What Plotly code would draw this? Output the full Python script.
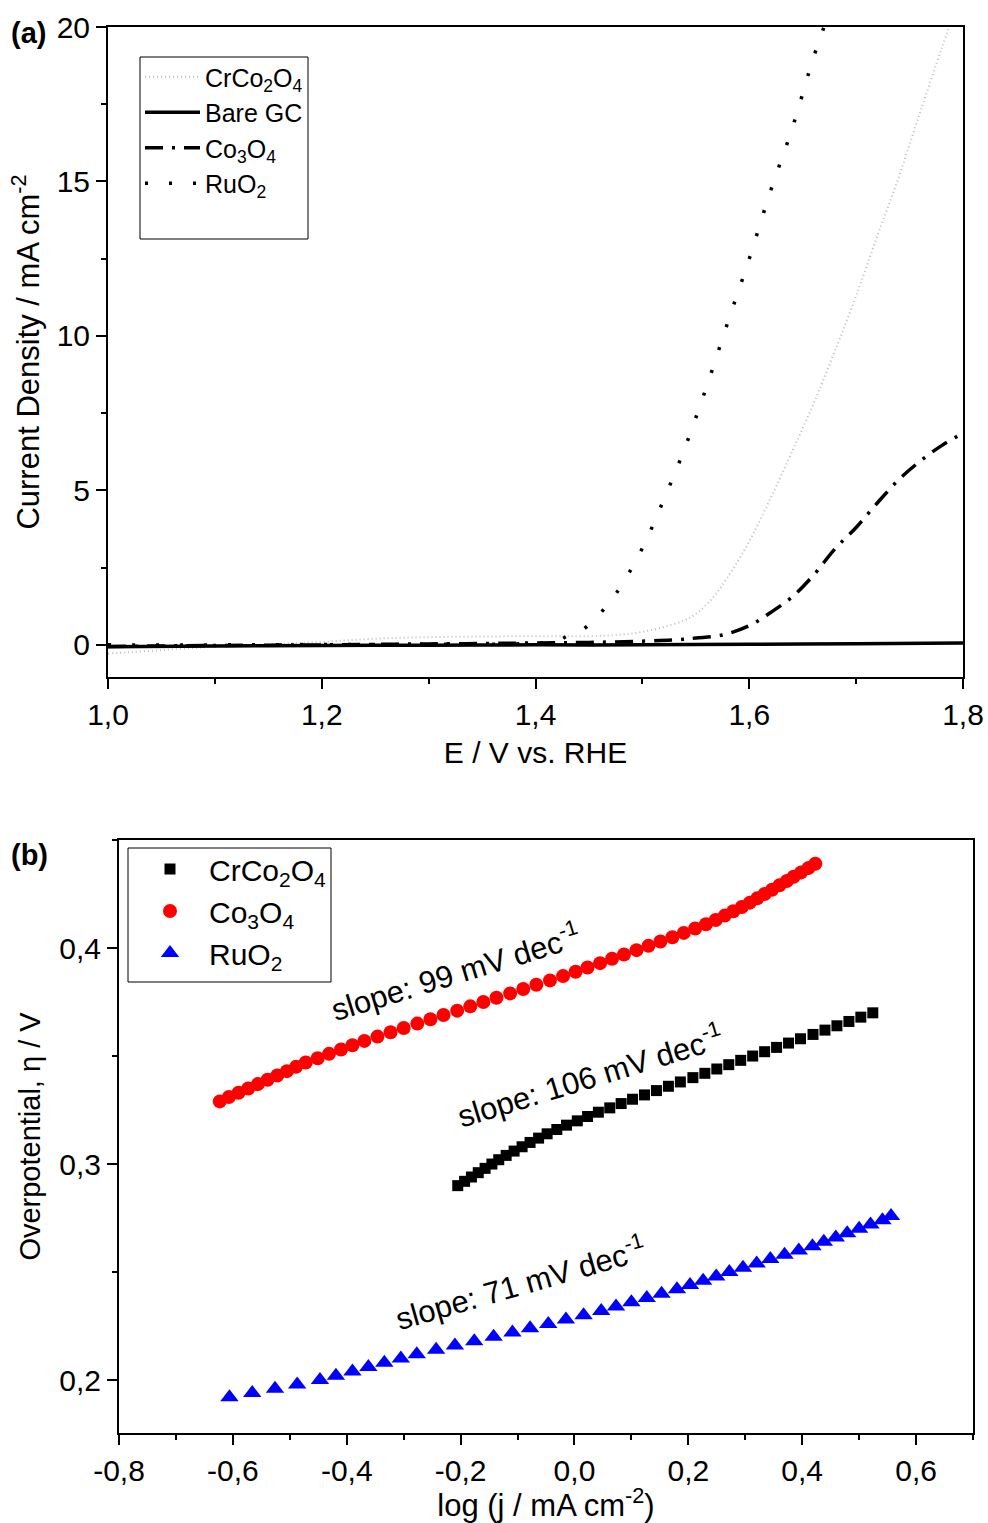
import plotly.graph_objects as go

W, H = 988, 1523
FONT = "Liberation Sans, Arial, sans-serif"

# ---------------- (a) linear sweep voltammograms ----------------
e_crco = [1.00, 1.02, 1.05, 1.08, 1.10, 1.15, 1.20, 1.25, 1.30, 1.35, 1.40, 1.45, 1.48,
          1.50, 1.52, 1.54, 1.55, 1.56, 1.57, 1.58, 1.59, 1.60, 1.62, 1.64, 1.66, 1.68,
          1.70, 1.72, 1.74, 1.76, 1.78, 1.79]
j_crco = [-0.28, -0.24, -0.17, -0.10, -0.06, 0.02, 0.10, 0.20, 0.25, 0.27, 0.28, 0.28, 0.33,
          0.42, 0.58, 0.80, 1.00, 1.30, 1.70, 2.20, 2.75, 3.35, 4.75, 6.25, 7.80, 9.50,
          11.30, 13.25, 15.15, 17.25, 19.30, 20.30]

e_bare = [1.00, 1.10, 1.20, 1.30, 1.40, 1.50, 1.60, 1.70, 1.80]
j_bare = [-0.06, -0.04, -0.02, -0.01, 0.00, 0.00, 0.02, 0.04, 0.06]

e_co3o4 = [1.00, 1.10, 1.20, 1.30, 1.40, 1.45, 1.50, 1.53, 1.55, 1.575, 1.60, 1.62, 1.64,
           1.66, 1.68, 1.70, 1.72, 1.74, 1.76, 1.78, 1.80]
j_co3o4 = [-0.05, -0.02, 0.00, 0.03, 0.06, 0.08, 0.12, 0.16, 0.22, 0.32, 0.62, 1.05, 1.55,
           2.25, 3.10, 3.80, 4.60, 5.35, 5.95, 6.45, 6.85]

e_ruo2 = [1.00, 1.10, 1.20, 1.30, 1.40, 1.42, 1.43, 1.44, 1.45, 1.46, 1.47, 1.48, 1.50,
          1.52, 1.54, 1.56, 1.58, 1.60, 1.62, 1.64, 1.66, 1.672]
j_ruo2 = [0.00, 0.00, 0.01, 0.02, 0.05, 0.12, 0.29, 0.38, 0.66, 1.00, 1.42, 1.90, 3.13,
          4.70, 6.40, 8.35, 10.45, 12.50, 14.70, 16.70, 19.00, 20.20]

# ---------------- (b) Tafel plots ----------------
logj_crco = [-0.205, -0.193, -0.181, -0.169, -0.157, -0.145, -0.133, -0.120, -0.106, -0.092,
             -0.078, -0.063, -0.048, -0.031, -0.014, 0.005, 0.023, 0.042, 0.062, 0.082,
             0.102, 0.123, 0.144, 0.165, 0.186, 0.208, 0.229, 0.250, 0.271, 0.292,
             0.313, 0.334, 0.355, 0.376, 0.397, 0.419, 0.440, 0.461, 0.482, 0.503, 0.524]
eta_crco = [0.290, 0.292, 0.294, 0.296, 0.298, 0.300, 0.302, 0.304, 0.306, 0.308,
            0.310, 0.312, 0.314, 0.316, 0.318, 0.320, 0.322, 0.324, 0.326, 0.328,
            0.330, 0.332, 0.334, 0.336, 0.338, 0.340, 0.342, 0.344, 0.346, 0.348,
            0.350, 0.352, 0.354, 0.356, 0.358, 0.360, 0.362, 0.364, 0.366, 0.368, 0.370]

logj_co3o4 = [-0.623, -0.607, -0.590, -0.573, -0.556, -0.539, -0.522, -0.505, -0.489, -0.472,
              -0.451, -0.431, -0.410, -0.390, -0.369, -0.346, -0.323, -0.300, -0.276, -0.253,
              -0.230, -0.206, -0.183, -0.160, -0.137, -0.113, -0.090, -0.067, -0.043, -0.020,
              0.002, 0.023, 0.045, 0.066, 0.087, 0.109, 0.130, 0.151, 0.172, 0.192,
              0.212, 0.231, 0.248, 0.264, 0.279, 0.294, 0.308, 0.321, 0.334, 0.347,
              0.360, 0.373, 0.385, 0.398, 0.411, 0.423]
eta_co3o4 = [0.329, 0.331, 0.333, 0.335, 0.337, 0.339, 0.341, 0.343, 0.345, 0.347,
             0.349, 0.351, 0.353, 0.355, 0.357, 0.359, 0.361, 0.363, 0.365, 0.367,
             0.369, 0.371, 0.373, 0.375, 0.377, 0.379, 0.381, 0.383, 0.385, 0.387,
             0.389, 0.391, 0.393, 0.395, 0.397, 0.399, 0.401, 0.403, 0.405, 0.407,
             0.409, 0.411, 0.413, 0.415, 0.417, 0.419, 0.421, 0.423, 0.425, 0.427,
             0.429, 0.431, 0.433, 0.435, 0.437, 0.439]

logj_ruo2 = [-0.606, -0.566, -0.526, -0.487, -0.447, -0.419, -0.390, -0.362, -0.334, -0.305,
             -0.277, -0.243, -0.210, -0.176, -0.142, -0.109, -0.078, -0.046, -0.015, 0.016,
             0.047, 0.073, 0.100, 0.127, 0.153, 0.180, 0.203, 0.226, 0.249, 0.272,
             0.296, 0.320, 0.344, 0.369, 0.394, 0.418, 0.438, 0.459, 0.479, 0.500,
             0.520, 0.541, 0.556]
eta_ruo2 = [0.192, 0.194, 0.196, 0.198, 0.200, 0.202, 0.204, 0.206, 0.208, 0.210,
            0.212, 0.214, 0.216, 0.218, 0.220, 0.222, 0.224, 0.226, 0.228, 0.230,
            0.232, 0.234, 0.236, 0.238, 0.240, 0.242, 0.244, 0.246, 0.248, 0.250,
            0.252, 0.254, 0.256, 0.258, 0.260, 0.262, 0.264, 0.266, 0.268, 0.270,
            0.272, 0.274, 0.276]

slope_labels = ["slope: 99 mV dec<sup>-1</sup>", "slope: 106 mV dec<sup>-1</sup>",
                "slope: 71 mV dec<sup>-1</sup>"]
slope_pos = [(-0.209, 0.3893), (0.027, 0.3410), (-0.095, 0.2452)]
slope_angle = [-17, -17, -16]

xa_ticks = [1.0, 1.2, 1.4, 1.6, 1.8]
xa_text = ["1,0", "1,2", "1,4", "1,6", "1,8"]
ya_ticks = [0, 5, 10, 15, 20]
xb_ticks = [-0.8, -0.6, -0.4, -0.2, 0.0, 0.2, 0.4, 0.6]
xb_text = ["-0,8", "-0,6", "-0,4", "-0,2", "0,0", "0,2", "0,4", "0,6"]
yb_ticks = [0.2, 0.3, 0.4]
yb_text = ["0,2", "0,3", "0,4"]


def px(xp):
    return xp / W


def py(yp):
    return 1 - yp / H


fig = go.Figure()

fig.add_trace(go.Scatter(x=e_crco, y=j_crco, mode="lines", name="CrCo<sub>2</sub>O<sub>4</sub>",
                         line=dict(color="#bdbdbd", width=2, dash="1px,3px", shape="spline"),
                         xaxis="x", yaxis="y", legend="legend"))
fig.add_trace(go.Scatter(x=e_bare, y=j_bare, mode="lines", name="Bare GC",
                         line=dict(color="black", width=3.5, shape="spline"),
                         xaxis="x", yaxis="y", legend="legend"))
fig.add_trace(go.Scatter(x=e_co3o4, y=j_co3o4, mode="lines", name="Co<sub>3</sub>O<sub>4</sub>",
                         line=dict(color="black", width=3.5, dash="18px,9px,3px,9px", shape="spline"),
                         xaxis="x", yaxis="y", legend="legend"))
fig.add_trace(go.Scatter(x=e_ruo2, y=j_ruo2, mode="lines", name="RuO<sub>2</sub>",
                         line=dict(color="black", width=3.5, dash="3px,21px", shape="spline"),
                         xaxis="x", yaxis="y", legend="legend"))

fig.add_trace(go.Scatter(x=logj_crco, y=eta_crco, mode="markers", name="CrCo<sub>2</sub>O<sub>4</sub>",
                         marker=dict(symbol="square", size=11, color="black"),
                         xaxis="x2", yaxis="y2", legend="legend2"))
fig.add_trace(go.Scatter(x=logj_co3o4, y=eta_co3o4, mode="markers", name="Co<sub>3</sub>O<sub>4</sub>",
                         marker=dict(symbol="circle", size=14, color="#ff0000"),
                         xaxis="x2", yaxis="y2", legend="legend2"))
fig.add_trace(go.Scatter(x=logj_ruo2, y=eta_ruo2, mode="markers", name="RuO<sub>2</sub>",
                         marker=dict(symbol="triangle-up", size=16, color="#0000ff"),
                         xaxis="x2", yaxis="y2", legend="legend2"))

axis_common = dict(showline=True, linecolor="black", linewidth=2, mirror=True,
                   ticks="outside", ticklen=10, tickwidth=2, tickcolor="black",
                   showgrid=False, zeroline=False, automargin=False,
                   tickfont=dict(family=FONT, size=30, color="black"))
minor_common = dict(ticks="outside", ticklen=5, tickwidth=2, tickcolor="black", showgrid=False)

fig.update_layout(
    template="none",
    width=W, height=H,
    margin=dict(l=0, r=0, t=0, b=0, pad=0),
    paper_bgcolor="white", plot_bgcolor="white",
    font=dict(family=FONT, color="black"),
    showlegend=True,
    xaxis=dict(domain=[px(108), px(963)], anchor="y", range=[1.0, 1.8],
               tickmode="array", tickvals=xa_ticks, ticktext=xa_text,
               minor=dict(tick0=1.0, dtick=0.1, **minor_common),
               title=dict(text="E / V vs. RHE", font=dict(family=FONT, size=30), standoff=12),
               **axis_common),
    yaxis=dict(domain=[py(677), py(27)], anchor="x", range=[-1.04, 20],
               tickmode="array", tickvals=ya_ticks,
               minor=dict(tick0=0, dtick=2.5, **minor_common),
               title=dict(text="Current Density / mA cm<sup>-2</sup>", font=dict(family=FONT, size=31),
                          standoff=8),
               **axis_common),
    xaxis2=dict(domain=[px(119), px(973)], anchor="y2", range=[-0.8, 0.7],
                tickmode="array", tickvals=xb_ticks, ticktext=xb_text,
                minor=dict(tick0=-0.8, dtick=0.1, **minor_common),
                title=dict(text="log (j / mA cm<sup>-2</sup>)", font=dict(family=FONT, size=31), standoff=8),
                **axis_common),
    yaxis2=dict(domain=[py(1433), py(840)], anchor="x2", range=[0.1755, 0.45],
                tickmode="array", tickvals=yb_ticks, ticktext=yb_text,
                minor=dict(tick0=0.2, dtick=0.05, **minor_common),
                title=dict(text="Overpotential, η / V", font=dict(family=FONT, size=29), standoff=10),
                **axis_common),
    legend=dict(x=px(140), y=py(54), xanchor="left", yanchor="top",
                bgcolor="rgba(0,0,0,0)", borderwidth=0, itemwidth=55,
                font=dict(family=FONT, size=25, color="black"), tracegroupgap=0),
    legend2=dict(x=px(131), y=py(843), xanchor="left", yanchor="top",
                 bgcolor="rgba(0,0,0,0)", borderwidth=0, itemwidth=68,
                 font=dict(family=FONT, size=30, color="black"), tracegroupgap=0),
)

# legend frames
fig.add_shape(type="rect", xref="paper", yref="paper", x0=px(140), x1=px(308), y0=py(239), y1=py(57),
              line=dict(color="black", width=1))
fig.add_shape(type="rect", xref="paper", yref="paper", x0=px(128), x1=px(331), y0=py(982), y1=py(848),
              line=dict(color="black", width=1))

# panel letters
for letter, ypix in [("(a)", 33), ("(b)", 855)]:
    fig.add_annotation(text="<b>%s</b>" % letter, xref="paper", yref="paper", x=px(9), y=py(ypix),
                       xanchor="left", yanchor="middle", showarrow=False,
                       font=dict(family=FONT, size=29, color="black"))

# Tafel slope labels
for label, (lx, ly), ang in zip(slope_labels, slope_pos, slope_angle):
    fig.add_annotation(text=label, xref="x2", yref="y2", x=lx, y=ly, showarrow=False,
                       textangle=ang, font=dict(family=FONT, size=31, color="black"))

fig.write_html("out.html")
